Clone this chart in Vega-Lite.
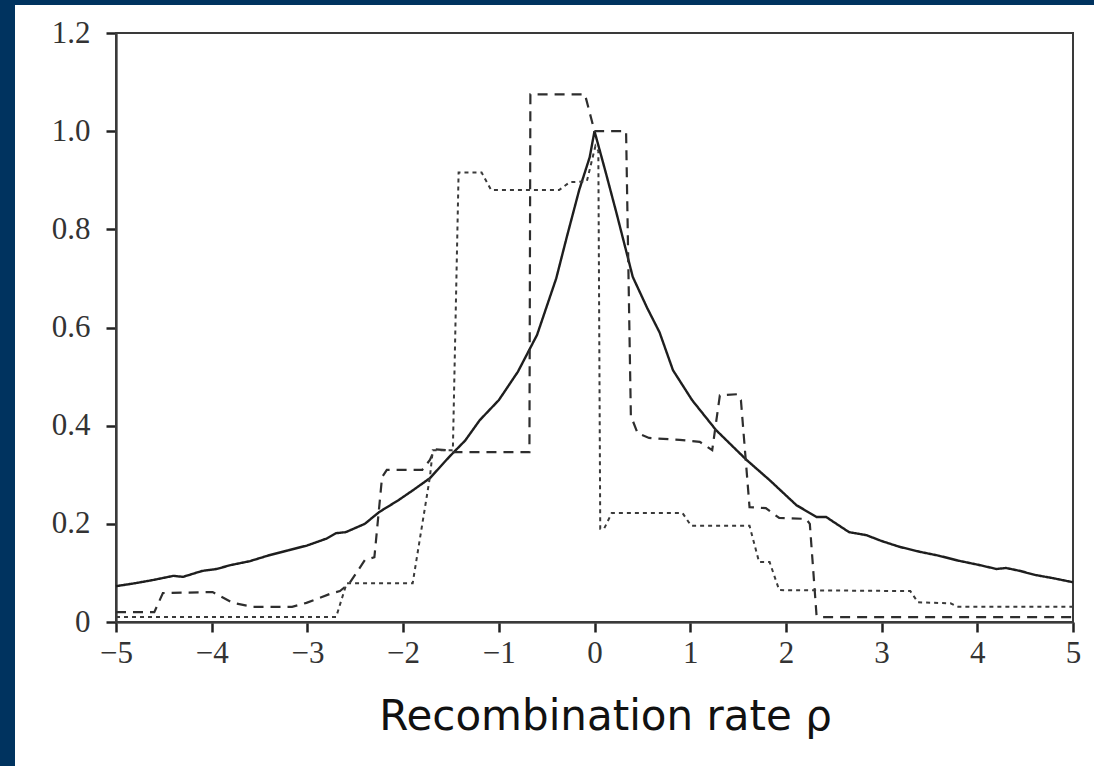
{
  "$schema": "https://vega.github.io/schema/vega-lite/v6.json",
  "width": 1079,
  "height": 761,
  "autosize": {"type": "none"},
  "padding": {"left": 15, "top": 5, "right": 0, "bottom": 0},
  "background": "#00335f",
  "config": {"view": {"fill": "white", "stroke": null}},
  "datasets": {
    "curves": [
      {"s":"solid","x":-5.0,"y":0.073},{"s":"solid","x":-4.8,"y":0.079},{"s":"solid","x":-4.6,"y":0.086},{"s":"solid","x":-4.4,"y":0.094},{"s":"solid","x":-4.3,"y":0.092},{"s":"solid","x":-4.1,"y":0.104},{"s":"solid","x":-3.95,"y":0.108},{"s":"solid","x":-3.8,"y":0.116},{"s":"solid","x":-3.6,"y":0.124},{"s":"solid","x":-3.4,"y":0.136},{"s":"solid","x":-3.2,"y":0.146},{"s":"solid","x":-3.0,"y":0.156},{"s":"solid","x":-2.8,"y":0.17},{"s":"solid","x":-2.7,"y":0.181},{"s":"solid","x":-2.6,"y":0.183},{"s":"solid","x":-2.4,"y":0.2},{"s":"solid","x":-2.25,"y":0.224},{"s":"solid","x":-2.05,"y":0.248},{"s":"solid","x":-1.9,"y":0.268},{"s":"solid","x":-1.72,"y":0.293},{"s":"solid","x":-1.52,"y":0.336},{"s":"solid","x":-1.35,"y":0.37},{"s":"solid","x":-1.2,"y":0.411},{"s":"solid","x":-1.0,"y":0.452},{"s":"solid","x":-0.8,"y":0.51},{"s":"solid","x":-0.6,"y":0.585},{"s":"solid","x":-0.4,"y":0.7},{"s":"solid","x":-0.29,"y":0.784},{"s":"solid","x":-0.16,"y":0.88},{"s":"solid","x":-0.05,"y":0.947},{"s":"solid","x":0.0,"y":1.0},{"s":"solid","x":0.12,"y":0.914},{"s":"solid","x":0.23,"y":0.833},{"s":"solid","x":0.4,"y":0.703},{"s":"solid","x":0.55,"y":0.64},{"s":"solid","x":0.68,"y":0.59},{"s":"solid","x":0.82,"y":0.513},{"s":"solid","x":1.02,"y":0.452},{"s":"solid","x":1.27,"y":0.391},{"s":"solid","x":1.59,"y":0.33},{"s":"solid","x":1.83,"y":0.289},{"s":"solid","x":2.11,"y":0.238},{"s":"solid","x":2.32,"y":0.214},{"s":"solid","x":2.42,"y":0.214},{"s":"solid","x":2.66,"y":0.183},{"s":"solid","x":2.84,"y":0.177},{"s":"solid","x":3.0,"y":0.165},{"s":"solid","x":3.19,"y":0.153},{"s":"solid","x":3.4,"y":0.143},{"s":"solid","x":3.6,"y":0.135},{"s":"solid","x":3.8,"y":0.125},{"s":"solid","x":4.0,"y":0.117},{"s":"solid","x":4.2,"y":0.108},{"s":"solid","x":4.3,"y":0.11},{"s":"solid","x":4.45,"y":0.104},{"s":"solid","x":4.6,"y":0.096},{"s":"solid","x":4.8,"y":0.089},{"s":"solid","x":5.0,"y":0.081},
      {"s":"dashed","x":-5.0,"y":0.02},{"s":"dashed","x":-4.6,"y":0.02},{"s":"dashed","x":-4.51,"y":0.059},{"s":"dashed","x":-3.99,"y":0.061},{"s":"dashed","x":-3.78,"y":0.039},{"s":"dashed","x":-3.57,"y":0.031},{"s":"dashed","x":-3.16,"y":0.031},{"s":"dashed","x":-3.01,"y":0.039},{"s":"dashed","x":-2.74,"y":0.059},{"s":"dashed","x":-2.66,"y":0.063},{"s":"dashed","x":-2.56,"y":0.079},{"s":"dashed","x":-2.4,"y":0.126},{"s":"dashed","x":-2.3,"y":0.132},{"s":"dashed","x":-2.22,"y":0.295},{"s":"dashed","x":-2.17,"y":0.31},{"s":"dashed","x":-1.8,"y":0.31},{"s":"dashed","x":-1.72,"y":0.33},{"s":"dashed","x":-1.67,"y":0.352},{"s":"dashed","x":-1.55,"y":0.35},{"s":"dashed","x":-1.48,"y":0.346},{"s":"dashed","x":-0.68,"y":0.346},{"s":"dashed","x":-0.67,"y":1.075},{"s":"dashed","x":-0.1,"y":1.075},{"s":"dashed","x":0.0,"y":1.0},{"s":"dashed","x":0.33,"y":1.0},{"s":"dashed","x":0.38,"y":0.42},{"s":"dashed","x":0.45,"y":0.385},{"s":"dashed","x":0.57,"y":0.375},{"s":"dashed","x":0.89,"y":0.371},{"s":"dashed","x":1.1,"y":0.367},{"s":"dashed","x":1.23,"y":0.35},{"s":"dashed","x":1.31,"y":0.462},{"s":"dashed","x":1.49,"y":0.464},{"s":"dashed","x":1.53,"y":0.452},{"s":"dashed","x":1.62,"y":0.234},{"s":"dashed","x":1.79,"y":0.232},{"s":"dashed","x":1.93,"y":0.212},{"s":"dashed","x":2.21,"y":0.21},{"s":"dashed","x":2.25,"y":0.2},{"s":"dashed","x":2.32,"y":0.014},{"s":"dashed","x":2.38,"y":0.01},{"s":"dashed","x":5.0,"y":0.01},
      {"s":"dotted","x":-5.0,"y":0.01},{"s":"dotted","x":-2.7,"y":0.01},{"s":"dotted","x":-2.59,"y":0.079},{"s":"dotted","x":-1.9,"y":0.079},{"s":"dotted","x":-1.72,"y":0.295},{"s":"dotted","x":-1.69,"y":0.35},{"s":"dotted","x":-1.48,"y":0.35},{"s":"dotted","x":-1.42,"y":0.916},{"s":"dotted","x":-1.18,"y":0.916},{"s":"dotted","x":-1.08,"y":0.88},{"s":"dotted","x":-0.37,"y":0.88},{"s":"dotted","x":-0.26,"y":0.896},{"s":"dotted","x":-0.08,"y":0.898},{"s":"dotted","x":0.01,"y":0.97},{"s":"dotted","x":0.04,"y":0.96},{"s":"dotted","x":0.06,"y":0.19},{"s":"dotted","x":0.1,"y":0.19},{"s":"dotted","x":0.18,"y":0.222},{"s":"dotted","x":0.92,"y":0.222},{"s":"dotted","x":1.01,"y":0.196},{"s":"dotted","x":1.62,"y":0.196},{"s":"dotted","x":1.72,"y":0.122},{"s":"dotted","x":1.83,"y":0.122},{"s":"dotted","x":1.93,"y":0.065},{"s":"dotted","x":3.3,"y":0.063},{"s":"dotted","x":3.38,"y":0.04},{"s":"dotted","x":3.72,"y":0.038},{"s":"dotted","x":3.8,"y":0.031},{"s":"dotted","x":5.0,"y":0.031}
    ],
    "frame": [{"x0": -5, "x1": 5, "y0": 0, "y1": 1.2}]
  },
  "layer": [
    {
      "data": {"name": "frame"},
      "mark": {"type": "rect", "fill": null, "stroke": "#3a3a3a", "strokeWidth": 2},
      "encoding": {
        "x": {"field": "x0", "type": "quantitative", "scale": {"domain": [-5, 5], "range": [101, 1058], "nice": false, "zero": false},
          "axis": {"orient": "bottom", "offset": -144, "values": [-5,-4,-3,-2,-1,0,1,2,3,4,5], "format": "d", "title": "Recombination rate ρ",
            "titleFont": "DejaVu Sans", "titleFontSize": 42, "titleFontWeight": "normal", "titleColor": "#111", "titlePadding": 28, "titleX": 590,
            "labelFont": "Liberation Serif", "labelFontSize": 31, "labelColor": "#333", "labelPadding": 6, "labelFlush": false,
            "tickSize": 10, "tickWidth": 2.5, "tickColor": "#222", "domainColor": "#555", "domainWidth": 2.5, "grid": false}},
        "x2": {"field": "x1"},
        "y": {"field": "y0", "type": "quantitative", "scale": {"domain": [0, 1.2], "range": [617, 28], "nice": false, "zero": false},
          "axis": {"orient": "left", "offset": -101, "values": [0, 0.2, 0.4, 0.6, 0.8, 1.0, 1.2], "title": null,
            "labelExpr": "datum.value == 0 ? '0' : format(datum.value, '.1f')",
            "labelFont": "Liberation Serif", "labelFontSize": 31, "labelColor": "#333", "labelPadding": 16, "labelFlush": false,
            "tickSize": 10, "tickWidth": 2.5, "tickColor": "#222", "domainColor": "#555", "domainWidth": 2.5, "grid": false}},
        "y2": {"field": "y1"}
      }
    },
    {
      "data": {"name": "curves"},
      "mark": {"type": "line", "interpolate": "linear"},
      "encoding": {
        "x": {"field": "x", "type": "quantitative"},
        "y": {"field": "y", "type": "quantitative"},
        "detail": {"field": "s"},
        "color": {"field": "s", "type": "nominal", "scale": {"domain": ["solid", "dashed", "dotted"], "range": ["#1e1e1e", "#2e2e2e", "#3a3a3a"]}, "legend": null},
        "strokeDash": {"field": "s", "type": "nominal", "scale": {"domain": ["solid", "dashed", "dotted"], "range": [[1, 0], [10, 7], [4, 4]]}, "legend": null},
        "strokeWidth": {"field": "s", "type": "nominal", "scale": {"domain": ["solid", "dashed", "dotted"], "range": [2.4, 2, 1.6]}, "legend": null}
      }
    }
  ]
}
